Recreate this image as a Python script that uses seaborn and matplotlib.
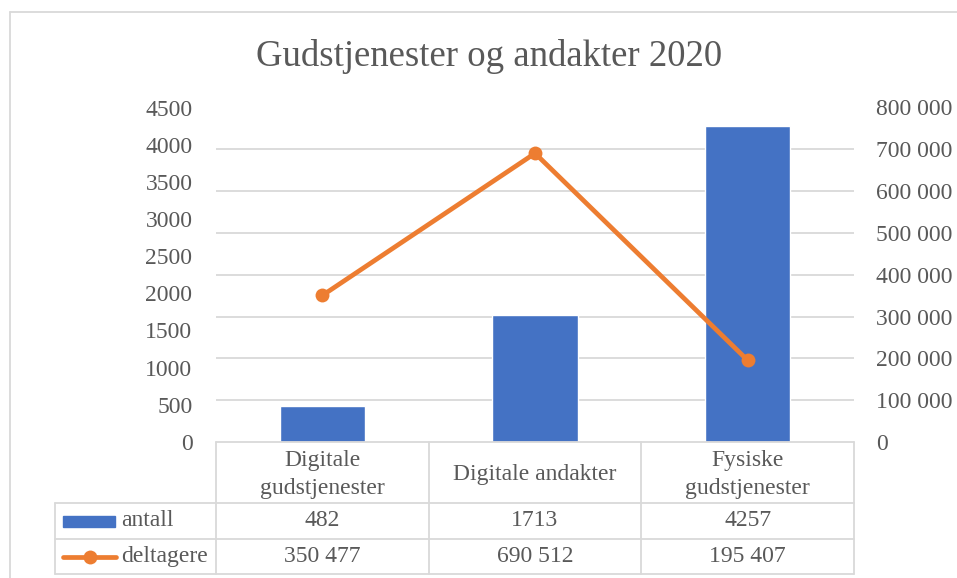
import matplotlib
matplotlib.use("Agg")
import matplotlib.pyplot as plt
import matplotlib.transforms as mtransforms
from matplotlib.lines import Line2D
from matplotlib.patches import Rectangle
import seaborn as sns
import pandas as pd

# ---- data ----
title = "Gudstjenester og andakter 2020"
categories = ["Digitale\ngudstjenester", "Digitale andakter", "Fysiske\ngudstjenester"]
antall = [482, 1713, 4257]
deltagere = [350477, 690512, 195407]
series_names = ["antall", "deltagere"]
left_ticks = [0, 500, 1000, 1500, 2000, 2500, 3000, 3500, 4000, 4500]
right_ticks = [0, 100000, 200000, 300000, 400000, 500000, 600000, 700000, 800000]

BLUE = "#4472C4"
ORANGE = "#ED7D31"
GRID = "#D9D9D9"
TXT = "#595959"

sns.set_style("white")
plt.rcParams["font.family"] = ["Liberation Serif", "DejaVu Serif"]

W, H = 957, 578
fig = plt.figure(figsize=(W / 100, H / 100), dpi=100)

def fx(x):
    return x / W

def fy(y):
    return 1 - y / H

L, R, T, B = 216, 854, 107.5, 442
ax = fig.add_axes([fx(L), fy(B), fx(R) - fx(L), fy(T) - fy(B)])

df = pd.DataFrame({"kategori": categories, "antall": antall, "deltagere": deltagere})
sns.barplot(data=df, x="kategori", y="antall", color=BLUE, width=0.4,
            saturation=1, ax=ax, zorder=3)
ax.set_xlim(-0.5, 2.5)
ax.set_ylim(0, 4500)
ax.set_yticks(left_ticks)
ax.set_yticklabels([str(v) for v in left_ticks])
# gridlines follow the secondary (right) axis ticks, as in the original
ax.set_yticks([v * 4500 / 800000 for v in right_ticks], minor=True)
ax.set_xticks([])
ax.set_xlabel("")
ax.set_ylabel("")
ax.grid(False)
ax.grid(axis="y", which="minor", color=GRID, linewidth=1.3, zorder=0)
ax.set_axisbelow(True)
for s in ax.spines.values():
    s.set_visible(False)
ax.tick_params(axis="y", which="both", length=0)
ax.tick_params(axis="y", which="major", pad=17, labelsize=17, labelcolor=TXT)

ax2 = ax.twinx()
sns.lineplot(x=[0, 1, 2], y=deltagere, ax=ax2, color=ORANGE, linewidth=3.4,
             marker="o", markersize=10, markeredgewidth=0, zorder=5)
ax2.set_ylim(0, 800000)
ax2.set_yticks(right_ticks)
ax2.set_yticklabels([f"{v:,}".replace(",", " ") for v in right_ticks])
for s in ax2.spines.values():
    s.set_visible(False)
ax2.tick_params(axis="y", length=0, pad=16, labelsize=17, labelcolor=TXT)
ax2.grid(False)

# title
fig.text(fx(489), fy(57), title, ha="center", va="center", fontsize=26.5, color=TXT)

# outer chart border
fig.add_artist(Line2D([fx(10), fx(10)], [fy(12), 0], transform=fig.transFigure, color=GRID, lw=1.3))
fig.add_artist(Line2D([fx(10), 1], [fy(12), fy(12)], transform=fig.transFigure, color=GRID, lw=1.3))

# ---- data table ----
tcol = dict(transform=fig.transFigure, color=GRID, lw=1.3, clip_on=False)
bt = mtransforms.blended_transform_factory(ax.transData, fig.transFigure)
row_lines = [503, 539, 574]
for y in row_lines:
    fig.add_artist(Line2D([fx(55), fx(R)], [fy(y), fy(y)], **tcol))
fig.add_artist(Line2D([fx(L), fx(R)], [fy(B), fy(B)], **tcol))
for xb in [-0.5, 0.5, 1.5, 2.5]:
    fig.add_artist(Line2D([xb, xb], [fy(B), fy(574)], transform=bt, color=GRID, lw=1.3, clip_on=False))
fig.add_artist(Line2D([fx(55), fx(55)], [fy(503), fy(574)], **tcol))

for i, c in enumerate(categories):
    fig.text(i, fy(474.5), c, transform=bt, ha="center", va="center", fontsize=17,
             color=TXT, linespacing=1.45)
    fig.text(i, fy(521), str(antall[i]), transform=bt, ha="center", va="center",
             fontsize=17, color=TXT)
    fig.text(i, fy(556.5), f"{deltagere[i]:,}".replace(",", " "), transform=bt,
             ha="center", va="center", fontsize=17, color=TXT)

# legend keys
fig.add_artist(Rectangle((fx(63), fy(527)), fx(115) - fx(63), fy(516) - fy(527),
                         transform=fig.transFigure, color=BLUE))
fig.text(fx(121), fy(521), series_names[0], ha="left", va="center", fontsize=17, color=TXT)
fig.add_artist(Line2D([fx(63), fx(116)], [fy(556.5), fy(556.5)], transform=fig.transFigure,
                      color=ORANGE, lw=3.4))
fig.add_artist(Line2D([fx(89.5)], [fy(556.5)], transform=fig.transFigure, color=ORANGE,
                      marker="o", markersize=10, markeredgewidth=0))
fig.text(fx(121), fy(556.5), series_names[1], ha="left", va="center", fontsize=17, color=TXT)

fig.savefig("out.png", dpi=100, facecolor="white")
